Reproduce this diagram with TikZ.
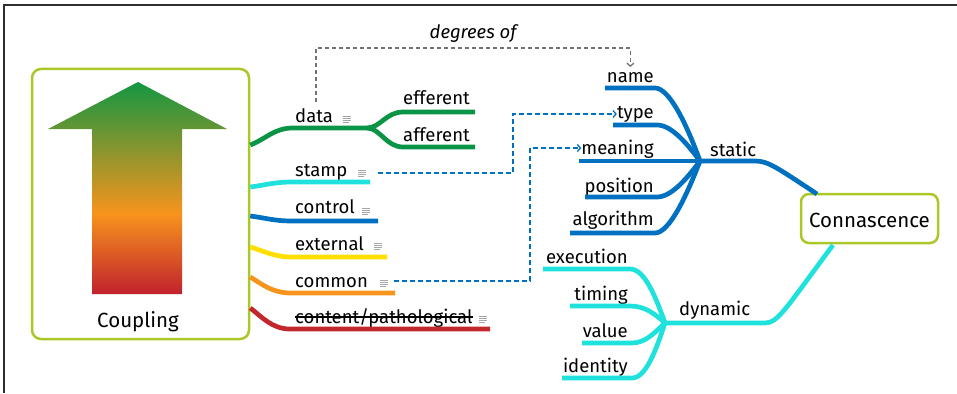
\documentclass[tikz,border=0pt]{standalone}
\usepackage{fontspec}
\setmainfont{Fira Sans}
\usetikzlibrary{arrows.meta}
\definecolor{cGreen}{RGB}{10,148,70}
\definecolor{cCyan}{RGB}{32,226,220}
\definecolor{cBlue}{RGB}{0,112,192}
\definecolor{cYellow}{RGB}{255,222,0}
\definecolor{cOrange}{RGB}{247,148,29}
\definecolor{cRed}{RGB}{193,39,45}
\definecolor{cBox}{RGB}{170,200,40}
\definecolor{cFrame}{RGB}{45,45,45}
\definecolor{aGreen}{RGB}{20,150,65}
\definecolor{aOrange}{RGB}{247,148,29}
\definecolor{aRed}{RGB}{193,33,45}
\pgfdeclareverticalshading{arrowshade}{100bp}{color(0bp)=(aRed); color(25bp)=(aRed); color(44bp)=(aOrange); color(75bp)=(aGreen); color(100bp)=(aGreen)}
\begin{document}
\begin{tikzpicture}[x=1pt,y=-1pt,
  br/.style={line width=4.7pt, line join=round},
  lbl/.style={inner sep=0pt, font=\fontsize{18.5}{20}\selectfont},
  big/.style={inner sep=0pt, font=\fontsize{20.5}{22}\selectfont},
  bdash/.style={cBlue, line width=1.3pt, dash pattern=on 5pt off 3pt, -{Straight Barb[length=3pt,width=7pt]}},
  gdash/.style={black!55, line width=1.3pt, dash pattern=on 4pt off 3pt, -{Straight Barb[length=3pt,width=7pt]}},
  noteicon/.pic={\draw[black!35, line width=0.9pt] (-4,-3) -- (4,-3) (-4,-1) -- (4,-1) (-4,1) -- (4,1) (-4,3) -- (2,3);}
]
\useasboundingbox (0,0) rectangle (957,393);
% frame
\draw[cFrame, line width=1.5pt] (4,393) -- (4,5) -- (957,5);

% Coupling box with gradient arrow
\node[draw=cBox, line width=2.5pt, rounded corners=9pt, minimum width=217pt, minimum height=270pt, inner sep=0pt] (coupling) at (140.5,204) {};
\shade[shading=arrowshade] (138,82) -- (227,129) -- (182,129) -- (182,294) -- (92,294) -- (92,129) -- (48,129) -- cycle;
\node[big, anchor=base] (couplingtxt) at (138,327) {Coupling};

% Connascence box
\node[draw=cBox, line width=2.5pt, rounded corners=8pt, minimum width=137pt, minimum height=49pt, inner sep=0pt] (conn) at (869.5,218.5) {};
\node[big, anchor=base] (conntxt) at (869.5,227) {Connascence};

% left labels
\node[lbl, anchor=base west] (data) at (295,122) {data};
\node[lbl, anchor=base west] (eff) at (403,105) {efferent};
\node[lbl, anchor=base west] (aff) at (403,141) {afferent};
\node[lbl, anchor=base west] (stamp) at (295,176) {stamp};
\node[lbl, anchor=base west] (control) at (295,213) {control};
\node[lbl, anchor=base west] (external) at (295,250) {external};
\node[lbl, anchor=base west] (common) at (295,287) {common};
\node[lbl, anchor=base west] (content) at (295,323) {content/pathological};
\draw[line width=1.3pt] ([yshift=6pt]content.base west) -- ([yshift=6pt]content.base east);

% note icons
\pic (n1) at (347,119) {noteicon};
\pic (n2) at (362,173) {noteicon};
\pic (n3) at (366,211) {noteicon};
\pic (n4) at (378,246) {noteicon};
\pic (n5) at (384,283) {noteicon};
\pic (n6) at (483,319) {noteicon};

% left branches
\coordinate (dsplit) at (367,128);
\draw[br, cGreen] (coupling.east |- 0,145) .. controls (266,139) and (274,128) .. (293,128) -- (dsplit);
\draw[br, cGreen] (dsplit) .. controls (380,128) and (386,112) .. (403,112) -- (475,112);
\draw[br, cGreen] (dsplit) .. controls (380,128) and (386,147) .. (403,147) -- (475,147);
\draw[br, cCyan] (coupling.east |- 0,187) .. controls (266,185) and (274,182) .. (293,182) -- (370,182);
\draw[br, cBlue] (coupling.east |- 0,216) .. controls (266,218) and (274,221) .. (292,221) -- (378,221);
\draw[br, cYellow] (coupling.east |- 0,247) .. controls (264,251) and (274,257) .. (292,257) -- (387,257);
\draw[br, cOrange] (coupling.east |- 0,277) .. controls (263,285) and (273,293) .. (291,293) -- (395,293);
\draw[br, cRed] (coupling.east |- 0,308) .. controls (262,317) and (272,329) .. (290,329) -- (490,329);

% static group
\coordinate (hubS) at (700,161);
\coordinate (sEnd) at (817,194);
\node[lbl, anchor=base east] (name) at (654,83) {name};
\node[lbl, anchor=base east] (type) at (654,118) {type};
\node[lbl, anchor=base east] (meaning) at (654,154) {meaning};
\node[lbl, anchor=base east] (position) at (654,192) {position};
\node[lbl, anchor=base east] (algorithm) at (654,225) {algorithm};
\node[lbl, anchor=base west] (static) at (710,156) {static};
\draw[br, cBlue] (605,88) -- (655,88) .. controls (670,88) and (688,128) .. (hubS);
\draw[br, cBlue] (613,125) -- (657,125) .. controls (672,125) and (688,145) .. (hubS);
\draw[br, cBlue] (579,161) -- (hubS);
\draw[br, cBlue] (585,197) -- (657,197) .. controls (672,197) and (688,177) .. (hubS);
\draw[br, cBlue] (570,233) -- (655,233) .. controls (670,233) and (688,192) .. (hubS);
\draw[br, cBlue] (hubS) -- (755,161) .. controls (768,161) and (776,167) .. (sEnd);

% dynamic group
\coordinate (hubD) at (665,323);
\node[lbl, anchor=base east] (execution) at (628,263) {execution};
\node[lbl, anchor=base east] (timing) at (628,300) {timing};
\node[lbl, anchor=base east] (value) at (628,337) {value};
\node[lbl, anchor=base east] (identity) at (628,372) {identity};
\node[lbl, anchor=base west] (dynamic) at (679,315) {dynamic};
\draw[br, cCyan] (543,269) -- (630,269) .. controls (645,269) and (656,298) .. (hubD);
\draw[br, cCyan] (570,306) -- (630,306) .. controls (645,306) and (655,314) .. (hubD);
\draw[br, cCyan] (582,343) -- (632,343) .. controls (646,343) and (655,332) .. (hubD);
\draw[br, cCyan] (562,378) -- (632,378) .. controls (646,378) and (656,350) .. (hubD);
\draw[br, cCyan] (hubD) -- (765,323) .. controls (778,323) and (786,308) .. (833,245);

% dashed connectors
\draw[gdash] (316,102) |- (name.north |- 0,48) -- (name.north |- 0,67);
\node[lbl, font=\fontsize{18.5}{20}\selectfont\itshape, anchor=base] (deg) at (473,39) {degrees of};
\coordinate (tA) at (513,114);
\draw[bdash] (378,173) -| (tA) -- (type.west |- tA);
\coordinate (mA) at (530,148);
\draw[bdash] (394,281) -| (mA) -- (meaning.west |- mA);
\end{tikzpicture}
\end{document}
